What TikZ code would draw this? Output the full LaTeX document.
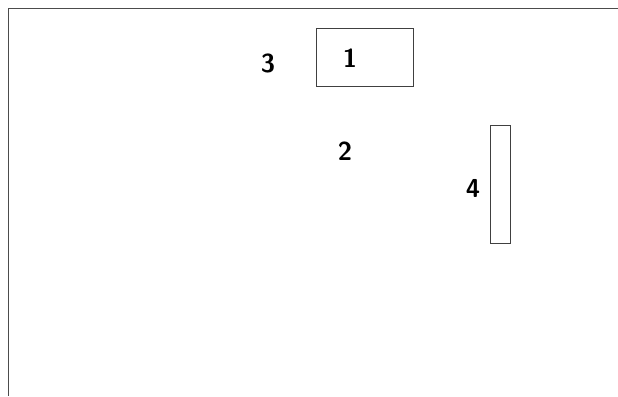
\documentclass[tikz,border=0pt]{standalone}
\usepackage{tikz}
\usetikzlibrary{positioning}
\tikzstyle{plate} = [draw=black!75, line width=0.7pt, inner sep=0pt]
\tikzstyle{digit} = [font=\fontsize{26}{26}\selectfont\sffamily\bfseries, inner sep=0pt]

\begin{document}
\begin{tikzpicture}[x=1pt, y=-1pt]
            \useasboundingbox (0,0) rectangle (618,396);
            \coordinate (top) at (618,8);
            \coordinate (corner) at (8,8);
            \coordinate (bottom) at (8,396);
            \draw[black!70, line width=0.9pt] (top) -- (corner) -- (bottom);
            \node[plate, minimum width=97pt, minimum height=58pt] (box1) at (364.5,57) {};
            \node[plate, minimum width=20pt, minimum height=118pt] (box4) at (500,184) {};
            \node[digit] (l1) at (350,58) {1};
            \node[digit] (l2) at (345,151) {2};
            \node[digit] (l3) at (268,63) {3};
            \node[digit] (l4) at (473,188) {4};
        \end{tikzpicture}
\end{document}
